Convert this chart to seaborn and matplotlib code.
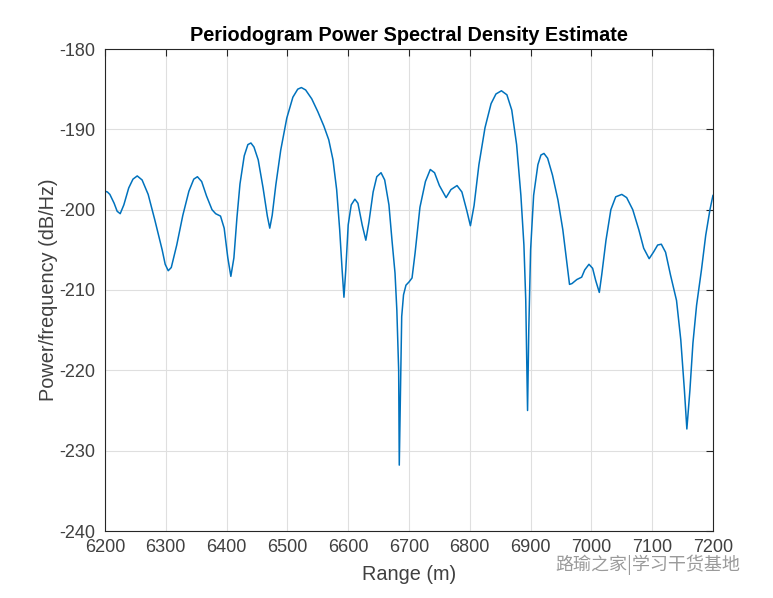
import matplotlib
matplotlib.use("Agg")
import matplotlib.pyplot as plt
import seaborn as sns
import pandas as pd

range_m = [6200, 6204, 6208, 6215, 6220, 6225, 6231, 6239, 6246, 6253, 6261, 6271, 6282, 6294, 6299, 6304,
           6309, 6318, 6328, 6338, 6346, 6352, 6359, 6367, 6376, 6382, 6390, 6396, 6402, 6407, 6412,
           6417, 6422, 6429, 6435, 6440, 6445, 6452, 6460, 6467, 6471, 6475, 6481, 6489, 6499, 6509,
           6517, 6523, 6530, 6540, 6550, 6560, 6568, 6575, 6581, 6586, 6590, 6593, 6596, 6600, 6605,
           6611, 6616, 6623, 6629, 6634, 6641, 6647, 6654, 6660, 6667, 6672, 6677, 6680, 6683, 6684,
           6686, 6688, 6691, 6695, 6700, 6705, 6710, 6718, 6727, 6735, 6742, 6750, 6761, 6769, 6779,
           6787, 6795, 6801, 6807, 6815, 6825, 6835, 6843, 6852, 6861, 6869, 6877, 6884, 6889, 6892,
           6895, 6897, 6900, 6905, 6912, 6917, 6922, 6928, 6936, 6945, 6953, 6960, 6964, 6968, 6976,
           6984, 6989, 6996, 7002, 7007, 7013, 7017, 7024, 7032, 7040, 7050, 7058, 7068, 7078, 7086,
           7095, 7102, 7109, 7115, 7122, 7130, 7140, 7147, 7153, 7157, 7162, 7167, 7173, 7181, 7188,
           7195, 7200]
psd_db = [-197.7, -197.8, -198.1, -199.2, -200.2, -200.5, -199.4, -197.3, -196.2, -195.8, -196.3, -198.1, -201.3, -205.0, -206.8, -207.6,
          -207.2, -204.4, -200.7, -197.7, -196.2, -195.9, -196.5, -198.3, -200.0, -200.5, -200.8, -202.3, -206.0, -208.3, -206.0,
          -201.0, -196.8, -193.3, -191.9, -191.7, -192.2, -193.8, -197.3, -200.8, -202.3, -200.7, -196.9, -192.6, -188.6, -186.0,
          -185.0, -184.8, -185.1, -186.2, -187.8, -189.6, -191.3, -193.8, -197.5, -202.5, -207.5, -210.9, -207.5, -201.9, -199.4,
          -198.7, -199.2, -201.9, -203.8, -201.6, -197.8, -195.9, -195.4, -196.3, -199.4, -203.8, -207.9, -212.5, -220.0, -231.8,
          -222.5, -213.3, -210.6, -209.4, -209.0, -208.5, -205.4, -199.7, -196.5, -195.0, -195.4, -197.0, -198.5, -197.5, -197.0,
          -197.8, -200.1, -202.0, -199.5, -194.4, -189.8, -186.8, -185.6, -185.2, -185.7, -187.6, -191.9, -198.2, -204.4, -211.2,
          -225.0, -215.0, -205.0, -198.2, -194.4, -193.2, -193.0, -193.6, -195.7, -198.8, -202.5, -206.9, -209.3, -209.2, -208.7,
          -208.4, -207.5, -206.8, -207.3, -208.8, -210.3, -208.1, -203.8, -200.0, -198.4, -198.1, -198.5, -200.0, -202.5, -204.8,
          -206.1, -205.3, -204.4, -204.3, -205.3, -208.1, -211.3, -216.2, -222.5, -227.3, -222.5, -216.6, -211.9, -207.5, -203.2,
          -200.0, -198.2]

x_ticks = [6200, 6300, 6400, 6500, 6600, 6700, 6800, 6900, 7000, 7100, 7200]
y_ticks = [-240, -230, -220, -210, -200, -190, -180]

sns.set_style("white")
plt.rcParams['font.family'] = ['Liberation Sans', 'DejaVu Sans']
plt.rcParams['axes.unicode_minus'] = False

df = pd.DataFrame({"Range (m)": range_m, "PSD": psd_db})

fig = plt.figure(figsize=(7.73, 5.98), dpi=100)
ax = fig.add_axes([105 / 773, 1 - 531 / 598, 608 / 773, 482 / 598])
sns.lineplot(data=df, x="Range (m)", y="PSD", ax=ax, color="#0072BD", linewidth=1.1, sort=False)

ax.set_xlim(6200, 7200)
ax.set_ylim(-240, -180)
ax.set_xticks(x_ticks)
ax.set_yticks(y_ticks)
ax.grid(True, color="#DFDFDF", linewidth=0.8)
ax.set_axisbelow(True)
for s in ax.spines.values():
    s.set_color("#262626")
    s.set_linewidth(0.8)
ax.tick_params(direction="in", length=5, width=0.8, color="#262626", labelcolor="#404040",
               labelsize=13, top=True, right=True, pad=6)
ax.tick_params(axis="y", pad=7)
ax.set_xlabel("Range (m)", fontsize=14.3, color="#404040", labelpad=6)
ax.set_ylabel("Power/frequency (dB/Hz)", fontsize=14.3, color="#404040", labelpad=1)
ax.set_title("Periodogram Power Spectral Density Estimate", fontsize=14.3, fontweight="bold",
             color="black", pad=6)

fig.text(555 / 773, 1 - 565 / 598, "路瑜之家|学习干货基地", fontsize=13, color="#9a9a9a",
         family=['Noto Sans CJK SC', 'DejaVu Sans'], va="center", ha="left")

fig.savefig("out.png", dpi=100, facecolor="white")
